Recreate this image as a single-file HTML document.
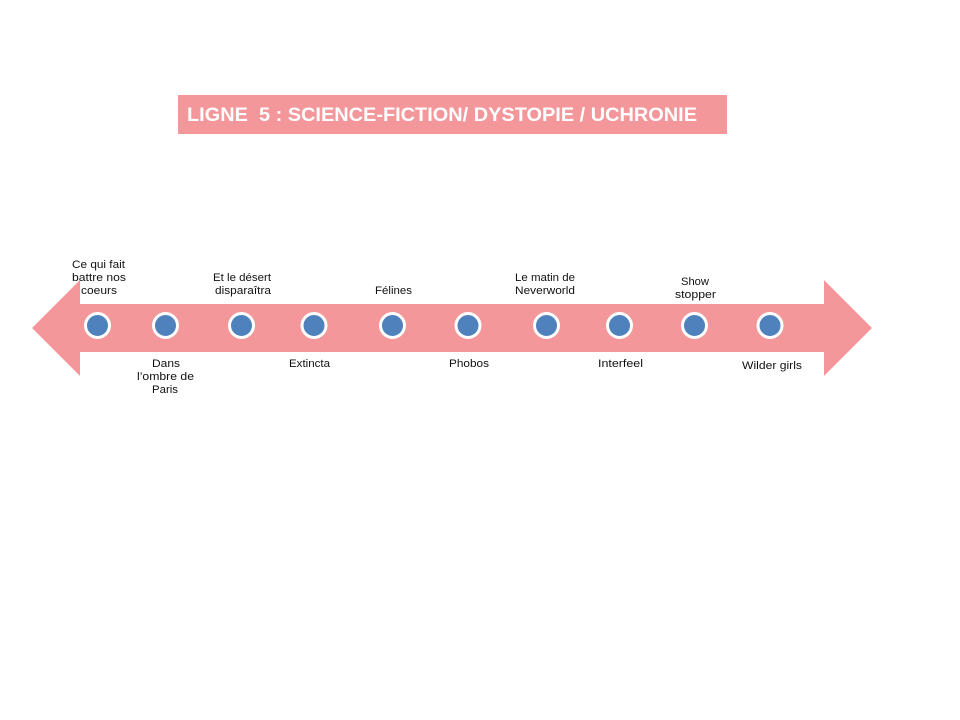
<!DOCTYPE html>
<html>
<head>
<meta charset="utf-8">
<style>
html,body{margin:0;padding:0;background:#fff;}
svg{display:block;}
text{font-family:"Liberation Sans",sans-serif;}
.l{font-size:11px;fill:#111;}
</style>
</head>
<body>
<svg width="960" height="720" viewBox="0 0 960 720" xmlns="http://www.w3.org/2000/svg">
<rect x="178" y="95" width="549" height="39" fill="#f3979b"/>
<text x="187" y="121" font-size="19" font-weight="bold" fill="#fff" textLength="510" lengthAdjust="spacingAndGlyphs" xml:space="preserve">LIGNE  5 : SCIENCE-FICTION/ DYSTOPIE / UCHRONIE</text>
<polygon points="32,328 80,280 80,304 824,304 824,280 872,328 824,376 824,352 80,352 80,376" fill="#f3979b"/>
<g fill="#4f81bd" stroke="#fff" stroke-width="3">
<circle cx="97.5" cy="325.5" r="12"/>
<circle cx="165.5" cy="325.5" r="12"/>
<circle cx="241.5" cy="325.5" r="12"/>
<circle cx="314" cy="325.5" r="12"/>
<circle cx="392.5" cy="325.5" r="12"/>
<circle cx="468" cy="325.5" r="12"/>
<circle cx="546.5" cy="325.5" r="12"/>
<circle cx="619.5" cy="325.5" r="12"/>
<circle cx="694.5" cy="325.5" r="12"/>
<circle cx="770" cy="325.5" r="12"/>
</g>
<text class="l" x="72" y="268" textLength="53" lengthAdjust="spacingAndGlyphs">Ce qui fait</text>
<text class="l" x="72" y="281" textLength="54" lengthAdjust="spacingAndGlyphs">battre nos</text>
<text class="l" x="81" y="294" textLength="36" lengthAdjust="spacingAndGlyphs">coeurs</text>
<text class="l" x="152" y="367" textLength="28" lengthAdjust="spacingAndGlyphs">Dans</text>
<text class="l" x="137" y="380" textLength="57" lengthAdjust="spacingAndGlyphs">l’ombre de</text>
<text class="l" x="152" y="393" textLength="26" lengthAdjust="spacingAndGlyphs">Paris</text>
<text class="l" x="213" y="281" textLength="58" lengthAdjust="spacingAndGlyphs">Et le désert</text>
<text class="l" x="215" y="294" textLength="56" lengthAdjust="spacingAndGlyphs">disparaîtra</text>
<text class="l" x="289" y="367" textLength="41" lengthAdjust="spacingAndGlyphs">Extincta</text>
<text class="l" x="375" y="294" textLength="37" lengthAdjust="spacingAndGlyphs">Félines</text>
<text class="l" x="449" y="367" textLength="40" lengthAdjust="spacingAndGlyphs">Phobos</text>
<text class="l" x="515" y="281" textLength="60" lengthAdjust="spacingAndGlyphs">Le matin de</text>
<text class="l" x="515" y="294" textLength="60" lengthAdjust="spacingAndGlyphs">Neverworld</text>
<text class="l" x="598" y="367" textLength="45" lengthAdjust="spacingAndGlyphs">Interfeel</text>
<text class="l" x="681" y="285" textLength="28" lengthAdjust="spacingAndGlyphs">Show</text>
<text class="l" x="675" y="298" textLength="41" lengthAdjust="spacingAndGlyphs">stopper</text>
<text class="l" x="742" y="369" textLength="60" lengthAdjust="spacingAndGlyphs">Wilder girls</text>
</svg>
</body>
</html>
